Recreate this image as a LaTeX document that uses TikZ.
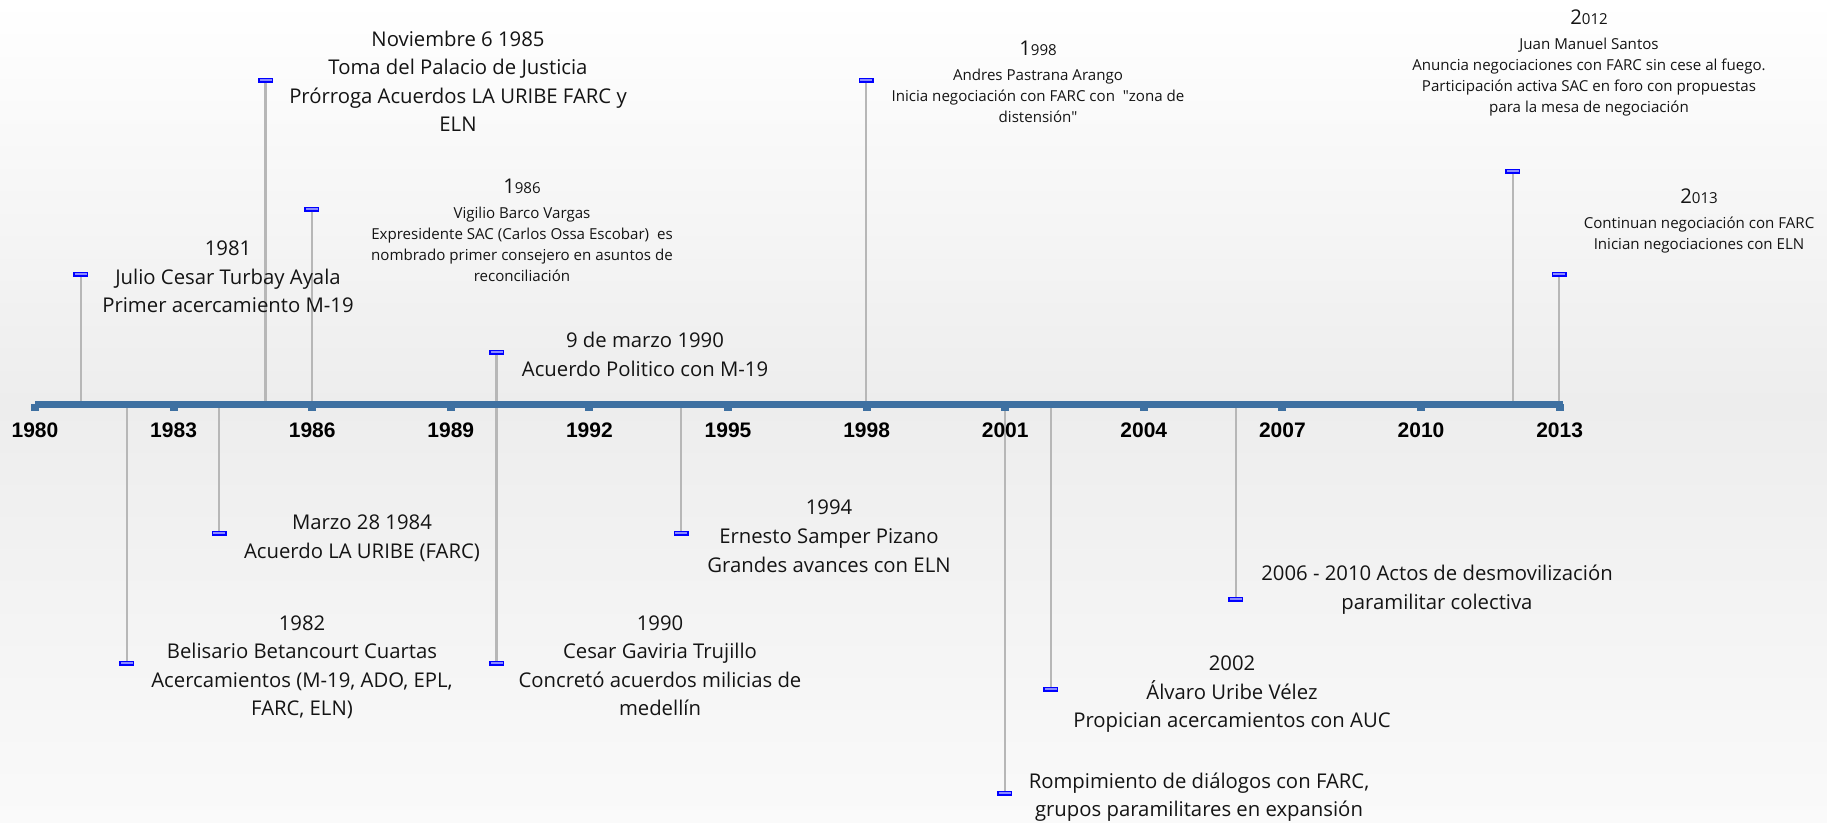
\documentclass[tikz,border=0pt]{standalone}
\usepackage{fontspec}
\newfontfamily\osans{Open Sans}
\newfontfamily\yearfont{Liberation Sans}
\definecolor{axisblue}{RGB}{62,112,161}
\definecolor{stemgray}{RGB}{183,183,183}
\definecolor{markblue}{RGB}{0,0,255}
\definecolor{markfill}{RGB}{140,140,255}
\definecolor{bgmid}{RGB}{237,237,237}
\definecolor{bgbot}{RGB}{250,250,250}
\definecolor{txt}{RGB}{20,20,20}
\newcommand\bigdig[1]{{\fontsize{20.3}{21}\selectfont #1}}
\tikzset{
  bigtxt/.style={align=center, inner sep=0pt, text=txt, font=\osans\fontsize{20.3}{28.6}\selectfont},
  smalltxt/.style={align=center, inner sep=0pt, text=txt, font=\osans\fontsize{15.1}{21}\selectfont},
  yearlbl/.style={font=\yearfont\bfseries\fontsize{21}{24}\selectfont, inner sep=0pt, text=black},
  marker/.style={draw=markblue, fill=markfill, line width=1.5pt, minimum width=13.5pt, minimum height=3.5pt, inner sep=0pt},
  stem/.style={draw=stemgray, line width=2.2pt},
}
\begin{document}
\begin{tikzpicture}[x=1pt,y=-1pt]
\useasboundingbox (0,0) rectangle (1827,822);
% background
\shade[top color=white,bottom color=bgmid] (0,0) rectangle (1827,404);
\shade[top color=bgmid,bottom color=bgbot] (0,404) rectangle (1827,822);
% events above the axis
\foreach \yr/\my in {1981/274,1985/80,1986/209,1990/352,1998/80,2012/171,2013/274}{
  \node[marker] (mu\yr) at ({35+46.2*(\yr-1980)-0.5},\my) {};
  \coordinate (au\yr) at ({35+46.2*(\yr-1980)-0.5},404);
  \draw[stem] (mu\yr.south) -- (au\yr);
}
% events below the axis
\foreach \yr/\my in {1982/663,1984/533,1990/663,1994/533,2001/793,2002/689,2006/599}{
  \node[marker] (md\yr) at ({35+46.2*(\yr-1980)-0.5},\my) {};
  \coordinate (ad\yr) at ({35+46.2*(\yr-1980)-0.5},404);
  \draw[stem] (ad\yr) -- (md\yr.north);
}
% axis
\fill[axisblue] (35,401) rectangle (1563,407.5);
\foreach \yr in {1980,1983,...,2013}{
  \fill[axisblue] ({35+46.2*(\yr-1980)-4},404) rectangle +(8,6.5);
  \node[yearlbl] (y\yr) at ({35+46.2*(\yr-1980)},430) {\yr};
}
% texts above
\node[bigtxt] (t1985) at (458,83.3) {\strut Noviembre 6 1985\\Toma del Palacio de Justicia\\Prórroga Acuerdos LA URIBE FARC y\\ELN\strut};
\node[bigtxt] (t1981) at (228,278.3) {\strut 1981\\Julio Cesar Turbay Ayala\\Primer acercamiento M-19\strut};
\node[bigtxt] (t1990a) at (645,356.3) {\strut 9 de marzo 1990\\Acuerdo Politico con M-19\strut};
\node[smalltxt] (t1986) at (522,233.3) {\strut\bigdig{1}986\\[4pt]Vigilio Barco Vargas\\Expresidente SAC (Carlos Ossa Escobar)\ \ es\\nombrado primer consejero en asuntos de\\reconciliación\strut};
\node[smalltxt] (t1998) at (1038,84.8) {\strut\bigdig{1}998\\[4pt]Andres Pastrana Arango\\Inicia negociación con FARC con\ \ "zona de\\distensión"\strut};
\node[smalltxt] (t2012) at (1589,64.3) {\strut\bigdig{2}012\\[4pt]Juan Manuel Santos\\Anuncia negociaciones con FARC sin cese al fuego.\\Participación activa SAC en foro con propuestas\\para la mesa de negociación\strut};
\node[smalltxt] (t2013) at (1699,222.3) {\strut\bigdig{2}013\\[4pt]Continuan negociación con FARC\\Inician negociaciones con ELN\strut};
% texts below
\node[bigtxt] (t1984) at (362,538.3) {\strut Marzo 28 1984\\Acuerdo LA URIBE (FARC)\strut};
\node[bigtxt] (t1982) at (302,667.3) {\strut 1982\\Belisario Betancourt Cuartas\\Acercamientos (M-19, ADO, EPL,\\FARC, ELN)\strut};
\node[bigtxt] (t1990b) at (660,667.3) {\strut 1990\\Cesar Gaviria Trujillo\\Concretó acuerdos milicias de\\medellín\strut};
\node[bigtxt] (t1994) at (829,537.8) {\strut 1994\\Ernesto Samper Pizano\\Grandes avances con ELN\strut};
\node[bigtxt] (t2006) at (1437,589.3) {\strut 2006 - 2010 Actos de desmovilización\\paramilitar colectiva\strut};
\node[bigtxt] (t2002) at (1232,693.3) {\strut 2002\\Álvaro Uribe Vélez\\Propician acercamientos con AUC\strut};
\node[bigtxt] (t2001) at (1199,796.8) {\strut Rompimiento de diálogos con FARC,\\grupos paramilitares en expansión\strut};
\end{tikzpicture}
\end{document}
